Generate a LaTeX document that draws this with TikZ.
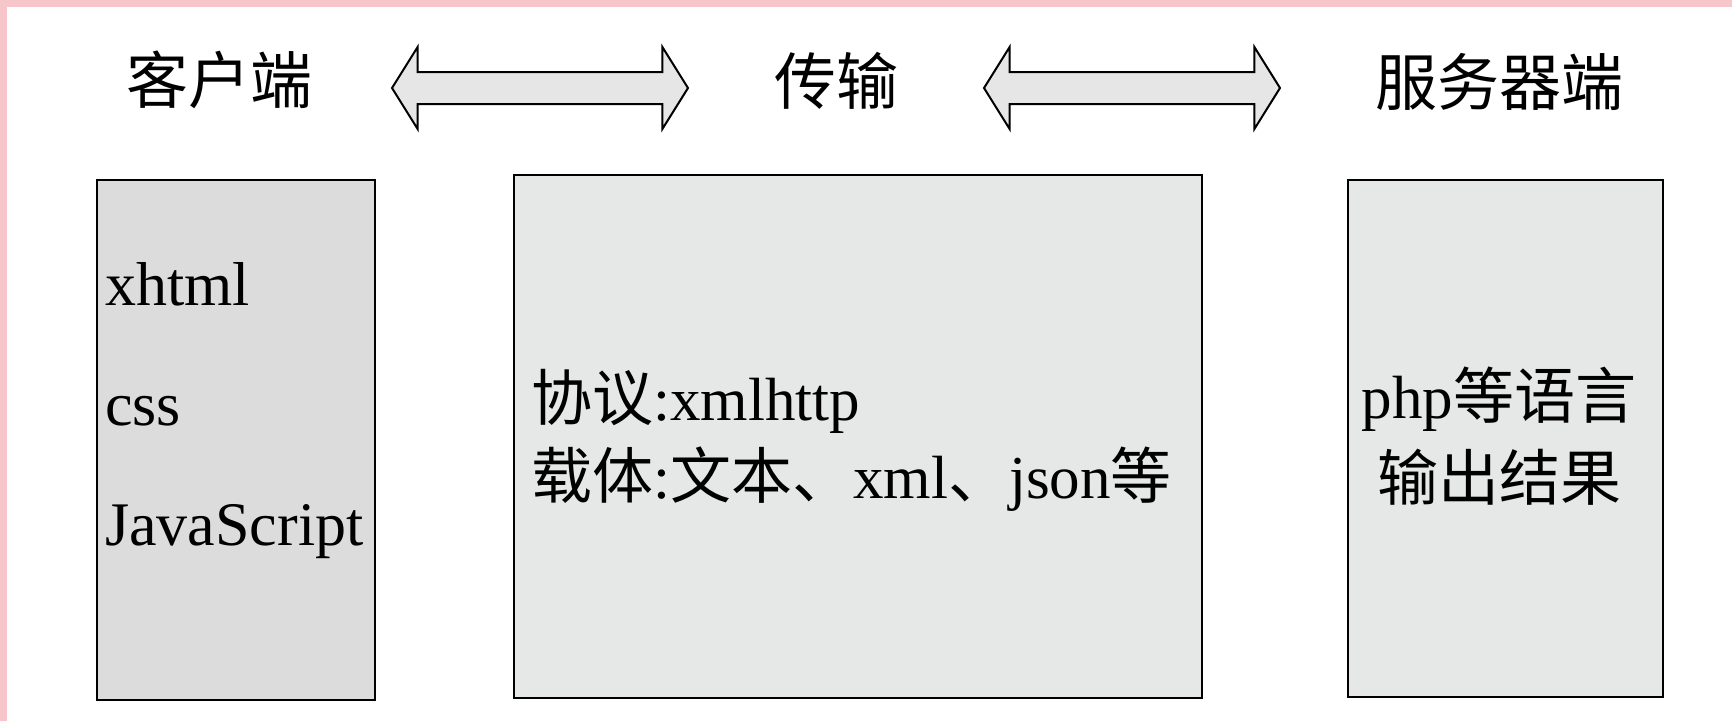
\documentclass[tikz,border=0pt]{standalone}
\usepackage{fontspec}
\setmainfont{Liberation Serif}
\newfontfamily\cjk{Noto Sans CJK SC}
\usepackage{tikz}
\usetikzlibrary{shapes.arrows}
\definecolor{framepink}{RGB}{246,198,202}
\definecolor{arrowgray}{RGB}{230,230,230}
\definecolor{clientgray}{RGB}{220,220,220}
\definecolor{panelgray}{RGB}{230,231,231}

\begin{document}
\begin{tikzpicture}[
  x=1pt, y=-1pt,
  head/.style={font=\fontsize{62}{62}\selectfont\cjk, inner sep=0pt},
  panel/.style={rectangle, draw=black, line width=2.8pt},
  dblarrow/.style={double arrow, draw=black, line width=2pt, fill=arrowgray,
                   minimum height=296pt, inner xsep=0pt, inner ysep=15pt,
                   double arrow head extend=25pt, double arrow tip angle=116},
  body/.style={inner sep=0pt, align=left}
]
\useasboundingbox (0,0) rectangle (1732,721);
\fill[white] (0,0) rectangle (1732,721);
\fill[framepink] (0,0) rectangle (1732,7);
\fill[framepink] (0,0) rectangle (7,721);

% Headers
\node[head] (client) at (219,80) {客户端};
\node[head] (trans) at (836,81) {传输};
\node[head] (server) at (1499,82) {服务器端};

% Double arrows between the headers
\node[dblarrow] (link1) at (540,88) {};
\node[dblarrow] (link2) at (1132,88) {};

% Panels
\node[panel, fill=clientgray, minimum width=278pt, minimum height=520pt] (clientbox) at (236,440) {};
\node[panel, fill=panelgray, minimum width=688pt, minimum height=523pt] (transbox) at (858,436.5) {};
\node[panel, fill=panelgray, minimum width=315pt, minimum height=517pt] (serverbox) at (1505.5,438.5) {};

% Panel texts (base = last line)
\node[body, anchor=base west, font=\fontsize{62}{120}\selectfont] (clienttext) at (105,545)
  {xhtml\\css\\JavaScript};
\node[body, anchor=base west, font=\fontsize{61}{78}\selectfont] (transtext) at (531,498)
  {{\cjk 协议}:xmlhttp\\{\cjk 载体}:{\cjk 文本、}xml{\cjk 、}json{\cjk 等}};
\node[body, align=center, anchor=base, font=\fontsize{61}{82}\selectfont] (servertext) at (1499,500)
  {php{\cjk 等语言}\\{\cjk 输出结果}};

\end{tikzpicture}
\end{document}
